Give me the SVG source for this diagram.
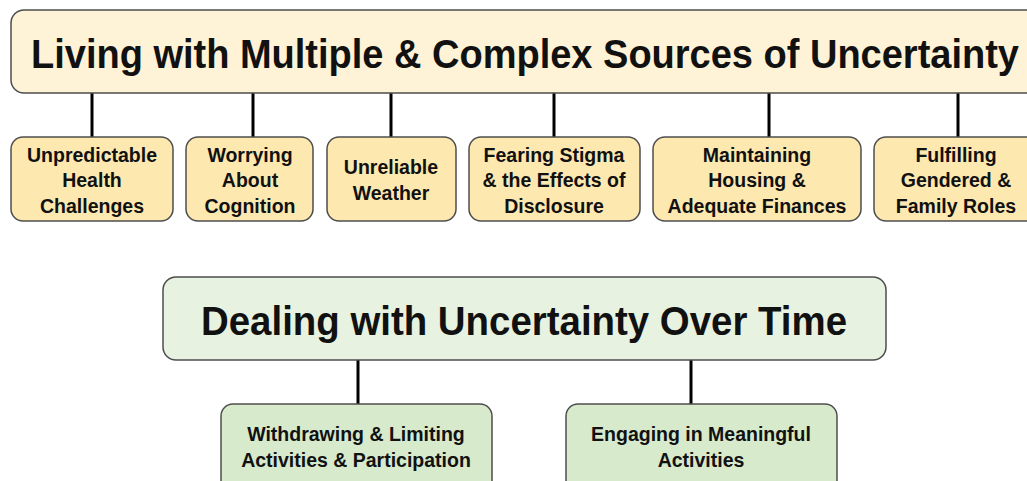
<svg xmlns="http://www.w3.org/2000/svg" width="1027" height="481" viewBox="0 0 1027 481">
<style>
.main{stroke:#4d4d4d;stroke-width:1.5}
.y1{fill:#fef3d6}
.y2{fill:#fde8b0}
.g1{fill:#e7f2e0}
.g2{fill:#d7eacb}
.t{font-family:"Liberation Sans","Arial",sans-serif;font-weight:bold;fill:#111;text-anchor:middle}
.big{font-size:40px}
.sm{font-size:19.5px}
.con{stroke:#000;stroke-width:3;fill:none}
</style>
<rect width="1027" height="481" fill="#ffffff"/>
<g id="connectors">
<line class="con" x1="92" y1="93" x2="92" y2="137"/>
<line class="con" x1="253" y1="93" x2="253" y2="137"/>
<line class="con" x1="391" y1="93" x2="391" y2="137"/>
<line class="con" x1="554" y1="93" x2="554" y2="137"/>
<line class="con" x1="769" y1="93" x2="769" y2="137"/>
<line class="con" x1="958" y1="93" x2="958" y2="137"/>
<line class="con" x1="358" y1="360" x2="358" y2="404"/>
<line class="con" x1="691" y1="360" x2="691" y2="404"/>
</g>
<g id="living">
<rect class="main y1" x="11" y="10" width="1030" height="83" rx="13"/>
<text class="t big" x="525" y="68" textLength="988" lengthAdjust="spacingAndGlyphs">Living with Multiple &amp; Complex Sources of Uncertainty</text>
</g>
<g id="health">
<rect class="main y2" x="11" y="137" width="162" height="84" rx="12"/>
<text class="t sm" x="92" y="161.5">Unpredictable</text>
<text class="t sm" x="92" y="187">Health</text>
<text class="t sm" x="92" y="212.5">Challenges</text>
</g>
<g id="cognition">
<rect class="main y2" x="186" y="137" width="127" height="84" rx="12"/>
<text class="t sm" x="250" y="161.5">Worrying</text>
<text class="t sm" x="250" y="187">About</text>
<text class="t sm" x="250" y="212.5">Cognition</text>
</g>
<g id="weather">
<rect class="main y2" x="327" y="137" width="129" height="84" rx="12"/>
<text class="t sm" x="391" y="174">Unreliable</text>
<text class="t sm" x="391" y="199.5">Weather</text>
</g>
<g id="stigma">
<rect class="main y2" x="469" y="137" width="171" height="84" rx="12"/>
<text class="t sm" x="554" y="161.5">Fearing Stigma</text>
<text class="t sm" x="554" y="187">&amp; the Effects of</text>
<text class="t sm" x="554" y="212.5">Disclosure</text>
</g>
<g id="housing">
<rect class="main y2" x="653" y="137" width="208" height="84" rx="12"/>
<text class="t sm" x="757" y="161.5">Maintaining</text>
<text class="t sm" x="757" y="187">Housing &amp;</text>
<text class="t sm" x="757" y="212.5">Adequate Finances</text>
</g>
<g id="roles">
<rect class="main y2" x="874" y="137" width="170" height="84" rx="12"/>
<text class="t sm" x="956" y="161.5">Fulfilling</text>
<text class="t sm" x="956" y="187">Gendered &amp;</text>
<text class="t sm" x="956" y="212.5">Family Roles</text>
</g>
<g id="dealing">
<rect class="main g1" x="163" y="277" width="723" height="83" rx="13"/>
<text class="t big" x="524" y="335" textLength="646" lengthAdjust="spacingAndGlyphs">Dealing with Uncertainty Over Time</text>
</g>
<g id="withdrawing">
<rect class="main g2" x="221" y="404" width="271" height="90" rx="12"/>
<text class="t sm" x="356" y="441">Withdrawing &amp; Limiting</text>
<text class="t sm" x="356" y="467">Activities &amp; Participation</text>
</g>
<g id="engaging">
<rect class="main g2" x="566" y="404" width="271" height="90" rx="12"/>
<text class="t sm" x="701" y="441">Engaging in Meaningful</text>
<text class="t sm" x="701" y="467">Activities</text>
</g>
</svg>
